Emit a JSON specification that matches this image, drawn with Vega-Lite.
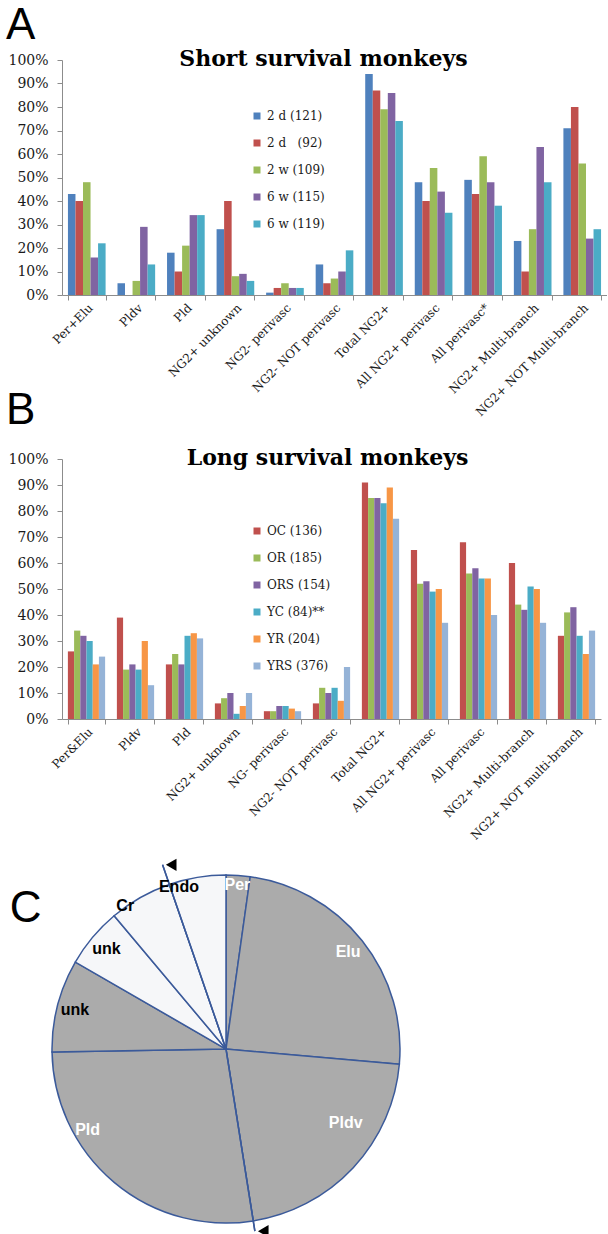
{
  "$schema": "https://vega.github.io/schema/vega-lite/v6.json",
  "background": "white",
  "padding": {"left": 5, "top": 4, "right": 0, "bottom": 0},
  "spacing": -30,
  "resolve": {"scale": {"x": "independent", "y": "independent", "xOffset": "independent", "color": "independent", "theta": "independent"}, "legend": {"color": "independent"}},
  "config": {
    "view": {"stroke": null},
    "axis": {"domainColor": "#8c8c8c", "tickColor": "#8c8c8c", "labelColor": "#1a1a1a", "grid": false}
  },
  "datasets": {
    "short": [
      {"cat": "Per+Elu", "group": "2 d (121)", "pct": 43},
      {"cat": "Per+Elu", "group": "2 d\u00a0\u00a0 (92)", "pct": 40},
      {"cat": "Per+Elu", "group": "2 w (109)", "pct": 48},
      {"cat": "Per+Elu", "group": "6 w (115)", "pct": 16},
      {"cat": "Per+Elu", "group": "6 w (119)", "pct": 22},
      {"cat": "Pldv", "group": "2 d (121)", "pct": 5},
      {"cat": "Pldv", "group": "2 d\u00a0\u00a0 (92)", "pct": 0},
      {"cat": "Pldv", "group": "2 w (109)", "pct": 6},
      {"cat": "Pldv", "group": "6 w (115)", "pct": 29},
      {"cat": "Pldv", "group": "6 w (119)", "pct": 13},
      {"cat": "Pld", "group": "2 d (121)", "pct": 18},
      {"cat": "Pld", "group": "2 d\u00a0\u00a0 (92)", "pct": 10},
      {"cat": "Pld", "group": "2 w (109)", "pct": 21},
      {"cat": "Pld", "group": "6 w (115)", "pct": 34},
      {"cat": "Pld", "group": "6 w (119)", "pct": 34},
      {"cat": "NG2+ unknown", "group": "2 d (121)", "pct": 28},
      {"cat": "NG2+ unknown", "group": "2 d\u00a0\u00a0 (92)", "pct": 40},
      {"cat": "NG2+ unknown", "group": "2 w (109)", "pct": 8},
      {"cat": "NG2+ unknown", "group": "6 w (115)", "pct": 9},
      {"cat": "NG2+ unknown", "group": "6 w (119)", "pct": 6},
      {"cat": "NG2- perivasc", "group": "2 d (121)", "pct": 1},
      {"cat": "NG2- perivasc", "group": "2 d\u00a0\u00a0 (92)", "pct": 3},
      {"cat": "NG2- perivasc", "group": "2 w (109)", "pct": 5},
      {"cat": "NG2- perivasc", "group": "6 w (115)", "pct": 3},
      {"cat": "NG2- perivasc", "group": "6 w (119)", "pct": 3},
      {"cat": "NG2- NOT perivasc", "group": "2 d (121)", "pct": 13},
      {"cat": "NG2- NOT perivasc", "group": "2 d\u00a0\u00a0 (92)", "pct": 5},
      {"cat": "NG2- NOT perivasc", "group": "2 w (109)", "pct": 7},
      {"cat": "NG2- NOT perivasc", "group": "6 w (115)", "pct": 10},
      {"cat": "NG2- NOT perivasc", "group": "6 w (119)", "pct": 19},
      {"cat": "Total NG2+", "group": "2 d (121)", "pct": 94},
      {"cat": "Total NG2+", "group": "2 d\u00a0\u00a0 (92)", "pct": 87},
      {"cat": "Total NG2+", "group": "2 w (109)", "pct": 79},
      {"cat": "Total NG2+", "group": "6 w (115)", "pct": 86},
      {"cat": "Total NG2+", "group": "6 w (119)", "pct": 74},
      {"cat": "All NG2+ perivasc", "group": "2 d (121)", "pct": 48},
      {"cat": "All NG2+ perivasc", "group": "2 d\u00a0\u00a0 (92)", "pct": 40},
      {"cat": "All NG2+ perivasc", "group": "2 w (109)", "pct": 54},
      {"cat": "All NG2+ perivasc", "group": "6 w (115)", "pct": 44},
      {"cat": "All NG2+ perivasc", "group": "6 w (119)", "pct": 35},
      {"cat": "All perivasc*", "group": "2 d (121)", "pct": 49},
      {"cat": "All perivasc*", "group": "2 d\u00a0\u00a0 (92)", "pct": 43},
      {"cat": "All perivasc*", "group": "2 w (109)", "pct": 59},
      {"cat": "All perivasc*", "group": "6 w (115)", "pct": 48},
      {"cat": "All perivasc*", "group": "6 w (119)", "pct": 38},
      {"cat": "NG2+ Multi-branch", "group": "2 d (121)", "pct": 23},
      {"cat": "NG2+ Multi-branch", "group": "2 d\u00a0\u00a0 (92)", "pct": 10},
      {"cat": "NG2+ Multi-branch", "group": "2 w (109)", "pct": 28},
      {"cat": "NG2+ Multi-branch", "group": "6 w (115)", "pct": 63},
      {"cat": "NG2+ Multi-branch", "group": "6 w (119)", "pct": 48},
      {"cat": "NG2+ NOT Multi-branch", "group": "2 d (121)", "pct": 71},
      {"cat": "NG2+ NOT Multi-branch", "group": "2 d\u00a0\u00a0 (92)", "pct": 80},
      {"cat": "NG2+ NOT Multi-branch", "group": "2 w (109)", "pct": 56},
      {"cat": "NG2+ NOT Multi-branch", "group": "6 w (115)", "pct": 24},
      {"cat": "NG2+ NOT Multi-branch", "group": "6 w (119)", "pct": 28}
    ],
    "long": [
      {"cat": "Per&Elu", "group": "OC (136)", "pct": 26},
      {"cat": "Per&Elu", "group": "OR (185)", "pct": 34},
      {"cat": "Per&Elu", "group": "ORS (154)", "pct": 32},
      {"cat": "Per&Elu", "group": "YC (84)**", "pct": 30},
      {"cat": "Per&Elu", "group": "YR (204)", "pct": 21},
      {"cat": "Per&Elu", "group": "YRS (376)", "pct": 24},
      {"cat": "Pldv", "group": "OC (136)", "pct": 39},
      {"cat": "Pldv", "group": "OR (185)", "pct": 19},
      {"cat": "Pldv", "group": "ORS (154)", "pct": 21},
      {"cat": "Pldv", "group": "YC (84)**", "pct": 19},
      {"cat": "Pldv", "group": "YR (204)", "pct": 30},
      {"cat": "Pldv", "group": "YRS (376)", "pct": 13},
      {"cat": "Pld", "group": "OC (136)", "pct": 21},
      {"cat": "Pld", "group": "OR (185)", "pct": 25},
      {"cat": "Pld", "group": "ORS (154)", "pct": 21},
      {"cat": "Pld", "group": "YC (84)**", "pct": 32},
      {"cat": "Pld", "group": "YR (204)", "pct": 33},
      {"cat": "Pld", "group": "YRS (376)", "pct": 31},
      {"cat": "NG2+ unknown", "group": "OC (136)", "pct": 6},
      {"cat": "NG2+ unknown", "group": "OR (185)", "pct": 8},
      {"cat": "NG2+ unknown", "group": "ORS (154)", "pct": 10},
      {"cat": "NG2+ unknown", "group": "YC (84)**", "pct": 2},
      {"cat": "NG2+ unknown", "group": "YR (204)", "pct": 5},
      {"cat": "NG2+ unknown", "group": "YRS (376)", "pct": 10},
      {"cat": "NG- perivasc", "group": "OC (136)", "pct": 3},
      {"cat": "NG- perivasc", "group": "OR (185)", "pct": 3},
      {"cat": "NG- perivasc", "group": "ORS (154)", "pct": 5},
      {"cat": "NG- perivasc", "group": "YC (84)**", "pct": 5},
      {"cat": "NG- perivasc", "group": "YR (204)", "pct": 4},
      {"cat": "NG- perivasc", "group": "YRS (376)", "pct": 3},
      {"cat": "NG2- NOT perivasc", "group": "OC (136)", "pct": 6},
      {"cat": "NG2- NOT perivasc", "group": "OR (185)", "pct": 12},
      {"cat": "NG2- NOT perivasc", "group": "ORS (154)", "pct": 10},
      {"cat": "NG2- NOT perivasc", "group": "YC (84)**", "pct": 12},
      {"cat": "NG2- NOT perivasc", "group": "YR (204)", "pct": 7},
      {"cat": "NG2- NOT perivasc", "group": "YRS (376)", "pct": 20},
      {"cat": "Total NG2+", "group": "OC (136)", "pct": 91},
      {"cat": "Total NG2+", "group": "OR (185)", "pct": 85},
      {"cat": "Total NG2+", "group": "ORS (154)", "pct": 85},
      {"cat": "Total NG2+", "group": "YC (84)**", "pct": 83},
      {"cat": "Total NG2+", "group": "YR (204)", "pct": 89},
      {"cat": "Total NG2+", "group": "YRS (376)", "pct": 77},
      {"cat": "All NG2+ perivasc", "group": "OC (136)", "pct": 65},
      {"cat": "All NG2+ perivasc", "group": "OR (185)", "pct": 52},
      {"cat": "All NG2+ perivasc", "group": "ORS (154)", "pct": 53},
      {"cat": "All NG2+ perivasc", "group": "YC (84)**", "pct": 49},
      {"cat": "All NG2+ perivasc", "group": "YR (204)", "pct": 50},
      {"cat": "All NG2+ perivasc", "group": "YRS (376)", "pct": 37},
      {"cat": "All perivasc", "group": "OC (136)", "pct": 68},
      {"cat": "All perivasc", "group": "OR (185)", "pct": 56},
      {"cat": "All perivasc", "group": "ORS (154)", "pct": 58},
      {"cat": "All perivasc", "group": "YC (84)**", "pct": 54},
      {"cat": "All perivasc", "group": "YR (204)", "pct": 54},
      {"cat": "All perivasc", "group": "YRS (376)", "pct": 40},
      {"cat": "NG2+ Multi-branch", "group": "OC (136)", "pct": 60},
      {"cat": "NG2+ Multi-branch", "group": "OR (185)", "pct": 44},
      {"cat": "NG2+ Multi-branch", "group": "ORS (154)", "pct": 42},
      {"cat": "NG2+ Multi-branch", "group": "YC (84)**", "pct": 51},
      {"cat": "NG2+ Multi-branch", "group": "YR (204)", "pct": 50},
      {"cat": "NG2+ Multi-branch", "group": "YRS (376)", "pct": 37},
      {"cat": "NG2+ NOT multi-branch", "group": "OC (136)", "pct": 32},
      {"cat": "NG2+ NOT multi-branch", "group": "OR (185)", "pct": 41},
      {"cat": "NG2+ NOT multi-branch", "group": "ORS (154)", "pct": 43},
      {"cat": "NG2+ NOT multi-branch", "group": "YC (84)**", "pct": 32},
      {"cat": "NG2+ NOT multi-branch", "group": "YR (204)", "pct": 25},
      {"cat": "NG2+ NOT multi-branch", "group": "YRS (376)", "pct": 34}
    ],
    "pie": [
      {"idx": 1, "label": "Per", "deg": 8, "shade": "gray"},
      {"idx": 2, "label": "Elu", "deg": 87, "shade": "gray"},
      {"idx": 3, "label": "Pldv", "deg": 76, "shade": "gray"},
      {"idx": 4, "label": "Pld", "deg": 98, "shade": "gray"},
      {"idx": 5, "label": "unk", "deg": 31, "shade": "gray"},
      {"idx": 6, "label": "unk", "deg": 20, "shade": "white"},
      {"idx": 7, "label": "Cr", "deg": 21, "shade": "white"},
      {"idx": 8, "label": "Endo", "deg": 19, "shade": "white"}
    ],
    "guide": [
      {"end": "top", "x0": 0, "y0": 0, "x1": -0.3646, "y1": 1.059},
      {"end": "bottom", "x0": 0, "y0": 0, "x1": 0.166, "y1": -1.047}
    ],
    "arrows": [
      {"end": "top", "x": -0.315, "y": 1.059},
      {"end": "bottom", "x": 0.214, "y": -1.047}
    ]
  },
  "vconcat": [
    {
      "title": {"text": "A", "anchor": "start", "frame": "bounds", "font": "Liberation Sans", "fontSize": 44, "fontWeight": "normal", "color": "black", "offset": 0, "dx": -2},
      "vconcat": [
        {
          "width": 545,
          "height": 235,
          "title": {"text": "Short survival monkeys", "font": "DejaVu Serif", "fontSize": 22, "fontWeight": "bold", "color": "black", "anchor": "middle", "offset": -18, "dx": -11},
          "data": {"name": "short"},
          "mark": {"type": "bar"},
          "encoding": {
            "x": {"field": "cat", "type": "nominal", "sort": null,
                  "scale": {"paddingInner": 0.24, "paddingOuter": 0.12},
                  "axis": {"title": null, "labelAngle": -45, "labelFont": "DejaVu Serif", "labelFontSize": 12, "tickBand": "extent", "tickSize": 5, "labelPadding": 2}},
            "xOffset": {"field": "group", "type": "nominal", "sort": null},
            "y": {"field": "pct", "type": "quantitative", "scale": {"domain": [0, 100]},
                  "axis": {"title": null, "values": [0, 10, 20, 30, 40, 50, 60, 70, 80, 90, 100], "labelExpr": "datum.value + '%'", "labelFont": "DejaVu Serif", "labelFontSize": 14, "tickSize": 5, "labelPadding": 9}},
            "color": {"field": "group", "type": "nominal", "sort": null,
                      "scale": {"domain": ["2 d (121)", "2 d\u00a0\u00a0 (92)", "2 w (109)", "6 w (115)", "6 w (119)"], "range": ["#4F81BD", "#C0504D", "#9BBB59", "#8064A2", "#4BACC6"]},
                      "legend": {"orient": "none", "legendX": 189, "legendY": 50, "title": null, "symbolType": "square", "symbolSize": 49, "symbolStrokeWidth": 0, "labelFont": "DejaVu Serif", "labelFontSize": 12, "labelColor": "#1a1a1a", "rowPadding": 15, "labelOffset": 4}}
          }
        }
      ]
    },
    {
      "title": {"text": "B", "anchor": "start", "frame": "bounds", "font": "Liberation Sans", "fontSize": 44, "fontWeight": "normal", "color": "black", "offset": 14, "dx": -2},
      "vconcat": [
        {
          "width": 539,
          "height": 260,
          "title": {"text": "Long survival monkeys", "font": "DejaVu Serif", "fontSize": 22, "fontWeight": "bold", "color": "black", "anchor": "middle", "offset": -18, "dx": -4},
          "data": {"name": "long"},
          "mark": {"type": "bar"},
          "encoding": {
            "x": {"field": "cat", "type": "nominal", "sort": null,
                  "scale": {"paddingInner": 0.24, "paddingOuter": 0.12},
                  "axis": {"title": null, "labelAngle": -45, "labelFont": "DejaVu Serif", "labelFontSize": 12, "tickBand": "extent", "tickSize": 5, "labelPadding": 2}},
            "xOffset": {"field": "group", "type": "nominal", "sort": null},
            "y": {"field": "pct", "type": "quantitative", "scale": {"domain": [0, 100]},
                  "axis": {"title": null, "values": [0, 10, 20, 30, 40, 50, 60, 70, 80, 90, 100], "labelExpr": "datum.value + '%'", "labelFont": "DejaVu Serif", "labelFontSize": 14, "tickSize": 5, "labelPadding": 9}},
            "color": {"field": "group", "type": "nominal", "sort": null,
                      "scale": {"domain": ["OC (136)", "OR (185)", "ORS (154)", "YC (84)**", "YR (204)", "YRS (376)"], "range": ["#C0504D", "#9BBB59", "#8064A2", "#4BACC6", "#F79646", "#95B3D7"]},
                      "legend": {"orient": "none", "legendX": 189, "legendY": 66, "title": null, "symbolType": "square", "symbolSize": 49, "symbolStrokeWidth": 0, "labelFont": "DejaVu Serif", "labelFontSize": 12, "labelColor": "#1a1a1a", "rowPadding": 15, "labelOffset": 4}}
          }
        }
      ]
    },
    {
      "title": {"text": "C", "anchor": "start", "frame": "bounds", "font": "Liberation Sans", "fontSize": 44, "fontWeight": "normal", "color": "black", "offset": -89, "dx": -29},
      "vconcat": [
        {
          "width": 400,
          "height": 420,
          "layer": [
            {
              "data": {"name": "guide"},
              "mark": {"type": "rule", "color": "#3B5A9A", "strokeWidth": 1.5},
              "encoding": {
                "x": {"field": "x0", "type": "quantitative", "scale": {"domain": [-0.9425, 1.3563], "nice": false, "zero": false}, "axis": null},
                "y": {"field": "y0", "type": "quantitative", "scale": {"domain": [-1.224, 1.19], "nice": false, "zero": false}, "axis": null},
                "x2": {"field": "x1"},
                "y2": {"field": "y1"}
              }
            },
            {
              "data": {"name": "pie"},
              "mark": {"type": "arc", "outerRadius": 174, "stroke": "#3B5A9A", "strokeWidth": 1.5},
              "encoding": {
                "x": {"datum": 0, "type": "quantitative"},
                "y": {"datum": 0, "type": "quantitative"},
                "theta": {"field": "deg", "type": "quantitative", "stack": true, "scale": {"domain": [0, 360]}},
                "order": {"field": "idx"},
                "color": {"field": "shade", "type": "nominal", "scale": {"domain": ["gray", "white"], "range": ["#ABABAB", "#F6F7F9"]}, "legend": null}
              }
            },
            {
              "data": {"name": "guide"},
              "mark": {"type": "rule", "color": "#3B5A9A", "strokeWidth": 1.5},
              "encoding": {
                "x": {"field": "x0", "type": "quantitative"},
                "y": {"field": "y0", "type": "quantitative"},
                "x2": {"field": "x1"},
                "y2": {"field": "y1"}
              }
            },
            {
              "data": {"name": "pie"},
              "mark": {"type": "text", "radius": 156, "font": "Liberation Sans", "fontSize": 16, "fontWeight": "bold"},
              "encoding": {
                "x": {"datum": 0, "type": "quantitative"},
                "y": {"datum": 0, "type": "quantitative"},
                "theta": {"field": "deg", "type": "quantitative", "stack": true},
                "order": {"field": "idx"},
                "text": {"condition": {"test": "datum.label == 'Elu' || datum.label == 'unk'", "field": "label"}, "value": ""},
                "color": {"condition": {"test": "datum.shade == 'white' || datum.label == 'unk'", "value": "black"}, "value": "white"}
              }
            },
            {
              "data": {"name": "pie"},
              "mark": {"type": "text", "radius": 164, "font": "Liberation Sans", "fontSize": 16, "fontWeight": "bold", "color": "white"},
              "encoding": {
                "x": {"datum": 0, "type": "quantitative"},
                "y": {"datum": 0, "type": "quantitative"},
                "theta": {"field": "deg", "type": "quantitative", "stack": true},
                "order": {"field": "idx"},
                "text": {"condition": {"test": "datum.label == 'Per'", "field": "label"}, "value": ""}
              }
            },
            {
              "data": {"name": "pie"},
              "mark": {"type": "text", "radius": 164, "dx": -20, "font": "Liberation Sans", "fontSize": 16, "fontWeight": "bold", "color": "black"},
              "encoding": {
                "x": {"datum": 0, "type": "quantitative"},
                "y": {"datum": 0, "type": "quantitative"},
                "theta": {"field": "deg", "type": "quantitative", "stack": true},
                "order": {"field": "idx"},
                "text": {"condition": {"test": "datum.label == 'Endo' || datum.label == 'Cr'", "field": "label"}, "value": ""}
              }
            },
            {
              "data": {"name": "pie"},
              "mark": {"type": "text", "radius": 150, "dx": 10, "dy": -28, "font": "Liberation Sans", "fontSize": 16, "fontWeight": "bold", "color": "white"},
              "encoding": {
                "x": {"datum": 0, "type": "quantitative"},
                "y": {"datum": 0, "type": "quantitative"},
                "theta": {"field": "deg", "type": "quantitative", "stack": true},
                "order": {"field": "idx"},
                "text": {"condition": {"test": "datum.label == 'Pldv'", "field": "label"}, "value": ""}
              }
            },
            {
              "data": {"name": "pie"},
              "mark": {"type": "text", "radius": 150, "dx": -42, "dy": -34, "font": "Liberation Sans", "fontSize": 16, "fontWeight": "bold", "color": "white"},
              "encoding": {
                "x": {"datum": 0, "type": "quantitative"},
                "y": {"datum": 0, "type": "quantitative"},
                "theta": {"field": "deg", "type": "quantitative", "stack": true},
                "order": {"field": "idx"},
                "text": {"condition": {"test": "datum.label == 'Pld'", "field": "label"}, "value": ""}
              }
            },
            {
              "data": {"name": "arrows"},
              "mark": {"type": "point", "shape": "triangle-left", "filled": true, "color": "black", "size": 150, "opacity": 1},
              "encoding": {
                "x": {"field": "x", "type": "quantitative"},
                "y": {"field": "y", "type": "quantitative"}
              }
            }
          ]
        }
      ]
    }
  ]
}
